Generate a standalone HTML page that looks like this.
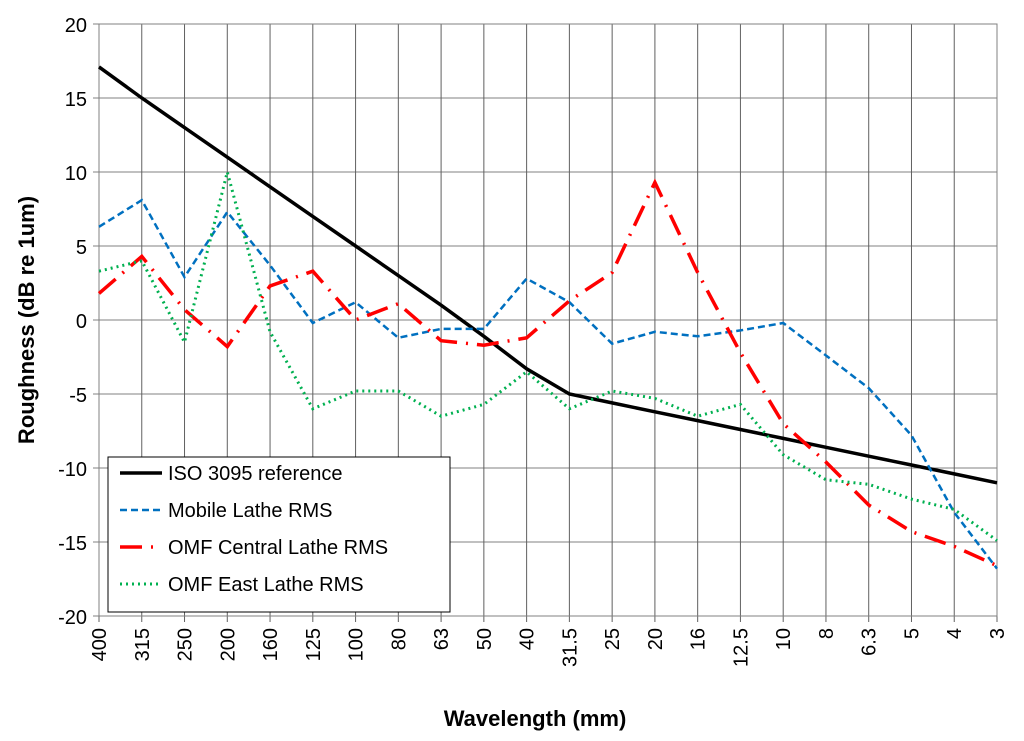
<!DOCTYPE html>
<html><head><meta charset="utf-8"><style>
html,body{margin:0;padding:0;background:#fff;}
svg{display:block;font-family:"Liberation Sans",Arial,sans-serif;}
</style></head><body>
<svg id="s" width="1024" height="741" xmlns="http://www.w3.org/2000/svg"></svg>
<script>
const s=document.getElementById('s');
const X0=99,X1=997,Y0=24,Y1=616;
const cats=["400","315","250","200","160","125","100","80","63","50","40","31.5","25","20","16","12.5","10","8","6.3","5","4","3"];
const dx=(X1-X0)/21;
const xp=i=>X0+i*dx, yp=v=>320-v*14.8;
let h='';
for(let i=0;i<=8;i++){const y=Y0+i*74;h+=`<line x1="${X0-6}" y1="${y}" x2="${X1}" y2="${y}" stroke="#808080" stroke-width="1"/>`;
h+=`<text x="${X0-12}" y="${y+8}" font-size="20" text-anchor="end">${20-5*i}</text>`;}
for(let i=0;i<22;i++){const x=xp(i);h+=`<line x1="${x}" y1="${Y0}" x2="${x}" y2="${Y1+6}" stroke="#606060" stroke-width="1"/>`;
h+=`<text transform="translate(${x+7},${Y1+12}) rotate(-90)" font-size="20" text-anchor="end">${cats[i]}</text>`;}
h+=`<rect x="${X0}" y="${Y0}" width="${X1-X0}" height="${Y1-Y0}" fill="none" stroke="#808080"/>`;
const S=[
[[17.1,15,13,11,9,7,5,3,1,-1.1,-3.3,-5,-5.6,-6.2,-6.8,-7.4,-8,-8.6,-9.2,-9.8,-10.4,-11],'#000',3.5,''],
[[6.3,8.1,2.9,7.3,3.7,-0.2,1.2,-1.2,-0.6,-0.6,2.8,1.2,-1.6,-0.8,-1.1,-0.7,-0.2,-2.4,-4.6,-7.8,-13,-16.8],'#0070c0',2.5,'7,4'],
[[1.8,4.3,0.7,-1.8,2.3,3.3,0,1.1,-1.4,-1.7,-1.2,1.3,3.2,9.3,3.2,-2.2,-7,-9.6,-12.5,-14.3,-15.3,-16.6],'#ff0000',3.5,'22,9,2,9'],
[[3.3,4,-1.5,10,-0.8,-6,-4.8,-4.8,-6.5,-5.7,-3.5,-6,-4.8,-5.3,-6.5,-5.7,-9.1,-10.8,-11.1,-12.1,-12.8,-14.9],'#00b050',3,'2,4']];
for(const [d,c,w,da] of S){h+=`<polyline fill="none" stroke="${c}" stroke-width="${w}" ${da?`stroke-dasharray="${da}"`:''} points="${d.map((v,i)=>xp(i).toFixed(1)+','+yp(v).toFixed(1)).join(' ')}"/>`;}
h+=`<rect x="108" y="457" width="342" height="155" fill="#fff" stroke="#000"/>`;
const L=["ISO 3095 reference","Mobile Lathe RMS","OMF Central Lathe RMS","OMF East Lathe RMS"];
L.forEach((t,i)=>{const y=473+i*37;const [_,c,w,da]=S[i];
h+=`<line x1="120" y1="${y}" x2="162" y2="${y}" stroke="${c}" stroke-width="${w}" ${da?`stroke-dasharray="${da}"`:''}/>`;
h+=`<text x="168" y="${y+7}" font-size="20">${t}</text>`;});
h+=`<text x="535" y="726" font-size="22" font-weight="bold" text-anchor="middle">Wavelength (mm)</text>`;
h+=`<text transform="translate(34,320) rotate(-90)" font-size="22" font-weight="bold" text-anchor="middle">Roughness (dB re 1um)</text>`;
s.innerHTML=h;
</script>
</body></html>
